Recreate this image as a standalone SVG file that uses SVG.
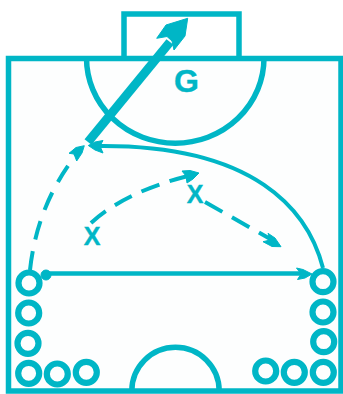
<svg xmlns="http://www.w3.org/2000/svg" width="343" height="394" viewBox="0 0 343 394">
<style>
.l{fill:none;stroke:#00b6c6;stroke-width:5.5}
.r{fill:#fdfefe;stroke:#00b6c6;stroke-width:6.2}
.h{fill:#00b6c6;stroke:#00b6c6;stroke-width:1;stroke-linejoin:round}
.c{fill:none;stroke:#00b6c6}
.t{font-family:"Liberation Sans",Arial,sans-serif;font-weight:700;fill:#00b6c6;stroke:#00b6c6;stroke-width:.4;text-anchor:middle}
</style>
<rect width="343" height="394" fill="#fff"/>
<rect x="6" y="56" width="337" height="338" fill="#fdfefe"/>
<g id="field">
<path class="l" d="M124 58V14H239V58"/>
<rect class="l" x="8.500" y="58.500" width="332.500" height="332.500"/>
<path class="l" d="M86.500 58A88.500 85 0 0 0 264 58"/>
<path class="l" d="M131.800 391A43.700 43.700 0 0 1 219.200 391"/>
</g>
<g id="connectors">
<path class="c" stroke-width="9" d="M88 142L170 42"/>
<polygon class="h" points="187.700,18.300 166,25 156.700,38.300 167,36.500 172,41 174,50 185,36"/>
<path class="c" stroke-width="4" d="M323 268C308 210 255 145 100 146"/>
<polygon class="h" points="88.300,145.500 95,142 103,140.500 100,146 103,153 95,150"/>
<path class="c" stroke-width="4" stroke-dasharray="19 12" d="M30 270Q37 205 76 155"/>
<polygon class="h" points="84.300,145.700 76,147.500 69,153.300 74,154 76.700,161 82,153"/>
<path class="c" stroke-width="4" stroke-dasharray="19 11" d="M91 223Q125 192 188 176"/>
<polygon class="h" points="199,173 190,170.500 182,171 186,176 187,183 193,179"/>
<path class="c" stroke-width="4" stroke-dasharray="20 11" d="M205 202L272 240"/>
<polygon class="h" points="281,246.700 275,238 268,233.300 270,240 263,241.700 272,246.500"/>
<path class="c" stroke-width="4.500" d="M46 273.500H306"/>
<polygon class="h" points="312,274 303,269.500 296.500,268 301,274 297.500,279.500 305,278"/>
</g>
<g id="ball"><circle class="h" cx="46" cy="275" r="5"/></g>
<g id="label-g"><text class="t" x="186.500" y="92" font-size="32">G</text></g>
<g id="label-x1"><text class="t" x="92" y="245" font-size="25">X</text></g>
<g id="label-x2"><text class="t" x="195" y="203" font-size="25">X</text></g>
<g id="players-left">
<circle class="r" cx="29" cy="283" r="10.500"/>
<circle class="r" cx="28.700" cy="313" r="10.500"/>
<circle class="r" cx="28" cy="343.300" r="10.500"/>
<circle class="r" cx="28.700" cy="373.300" r="10.500"/>
<circle class="r" cx="57.300" cy="374" r="10.500"/>
<circle class="r" cx="86.300" cy="372.300" r="10.500"/>
</g>
<g id="players-right">
<circle class="r" cx="323" cy="281.700" r="10.500"/>
<circle class="r" cx="323" cy="312" r="10.500"/>
<circle class="r" cx="323.700" cy="341.700" r="10.500"/>
<circle class="r" cx="323.300" cy="372.300" r="10.500"/>
<circle class="r" cx="294.300" cy="372.300" r="10.500"/>
<circle class="r" cx="265.700" cy="371" r="10.500"/>
</g>
</svg>
